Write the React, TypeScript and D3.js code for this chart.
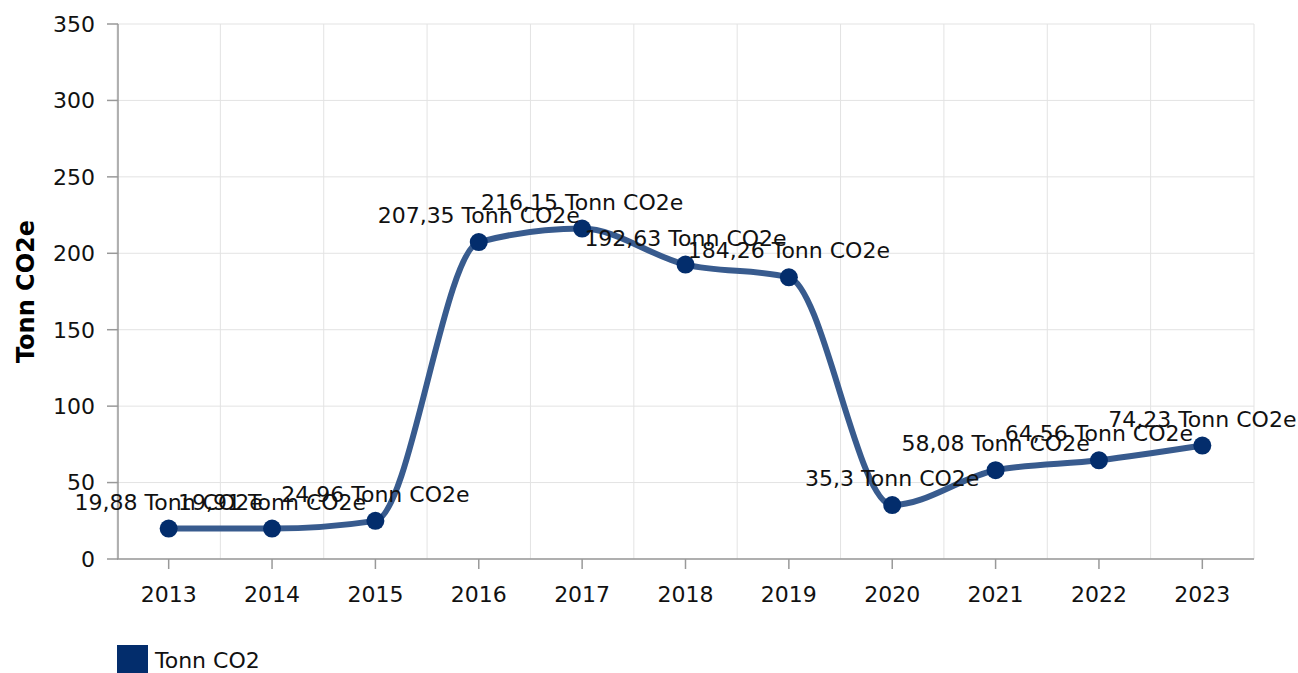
import * as d3 from 'd3';

const years = ['2013', '2014', '2015', '2016', '2017', '2018', '2019', '2020', '2021', '2022', '2023'];
const values = [19.88, 19.91, 24.96, 207.35, 216.15, 192.63, 184.26, 35.3, 58.08, 64.56, 74.23];
const yTicks = [0, 50, 100, 150, 200, 250, 300, 350];
const seriesName = 'Tonn CO2';
const unit = 'Tonn CO2e';

const W = 1298;
const H = 673;
const FONT = 'DejaVu Sans, Verdana, sans-serif';

function fmt(v: number) {
  return String(v).replace('.', ',');
}

export default function App() {
  const margin = { left: 117, right: 44, top: 24, bottom: 114 };
  const x = d3
    .scaleBand<string>()
    .domain(years)
    .range([margin.left, W - margin.right]);
  const y = d3
    .scaleLinear()
    .domain([0, 350])
    .range([H - margin.bottom, margin.top]);

  const cx = (d: string) => (x(d) as number) + x.bandwidth() / 2;
  const pts: [number, number][] = years.map((d, i) => [cx(d), y(values[i])]);

  const line = d3.line().curve(d3.curveMonotoneX);
  const bounds = [...years.map((d) => x(d) as number), x.range()[1]];
  const [x0, x1] = x.range();
  const y0 = y(0);

  return (
    <svg
      width={W}
      height={H}
      style={{ position: 'absolute', left: 0, top: 0, background: '#fff' }}
      fontFamily={FONT}
    >
      {/* grid */}
      {yTicks.map((t) => (
        <line key={'gy' + t} x1={x0} x2={x1} y1={y(t)} y2={y(t)} stroke="#e3e3e3" strokeWidth={1} />
      ))}
      {bounds.map((b, i) => (
        <line key={'gx' + i} x1={b} x2={b} y1={y(350)} y2={y0} stroke="#e3e3e3" strokeWidth={1} />
      ))}

      {/* y axis */}
      <line x1={x0 + 1} x2={x0 + 1} y1={y(350)} y2={y0} stroke="#999" strokeWidth={1.5} />
      {yTicks.map((t) => (
        <g key={'ty' + t}>
          <line x1={x0 - 10} x2={x0 + 1} y1={y(t)} y2={y(t)} stroke="#999" strokeWidth={1.5} />
          <text x={95} y={y(t)} dy="0.36em" textAnchor="end" fontSize={22} fill="#111">
            {t}
          </text>
        </g>
      ))}

      {/* x axis */}
      <line x1={x0} x2={x1} y1={y0} y2={y0} stroke="#999" strokeWidth={1.5} />
      {years.map((d) => (
        <g key={'tx' + d}>
          <line x1={cx(d)} x2={cx(d)} y1={y0} y2={y0 + 10} stroke="#999" strokeWidth={1.5} />
          <text x={cx(d)} y={602} textAnchor="middle" fontSize={22} fill="#111">
            {d}
          </text>
        </g>
      ))}

      <text
        transform={`translate(34, ${(y(350) + y0) / 2}) rotate(-90)`}
        textAnchor="middle"
        fontSize={24}
        fontWeight="bold"
        fill="#000"
      >
        {unit}
      </text>

      {/* series */}
      <path d={line(pts) || ''} fill="none" stroke="#385b8e" strokeWidth={6} strokeLinecap="round" />
      {pts.map((p, i) => (
        <circle key={'c' + i} cx={p[0]} cy={p[1]} r={9} fill="#032d6c" />
      ))}
      {pts.map((p, i) => (
        <text key={'l' + i} x={p[0]} y={p[1] - 19} textAnchor="middle" fontSize={22} fill="#111">
          {fmt(values[i]) + ' ' + unit}
        </text>
      ))}

      {/* legend */}
      <rect x={117} y={645} width={31} height={30} fill="#032d6c" />
      <text x={155} y={668} fontSize={22} fill="#111">
        {seriesName}
      </text>
    </svg>
  );
}
